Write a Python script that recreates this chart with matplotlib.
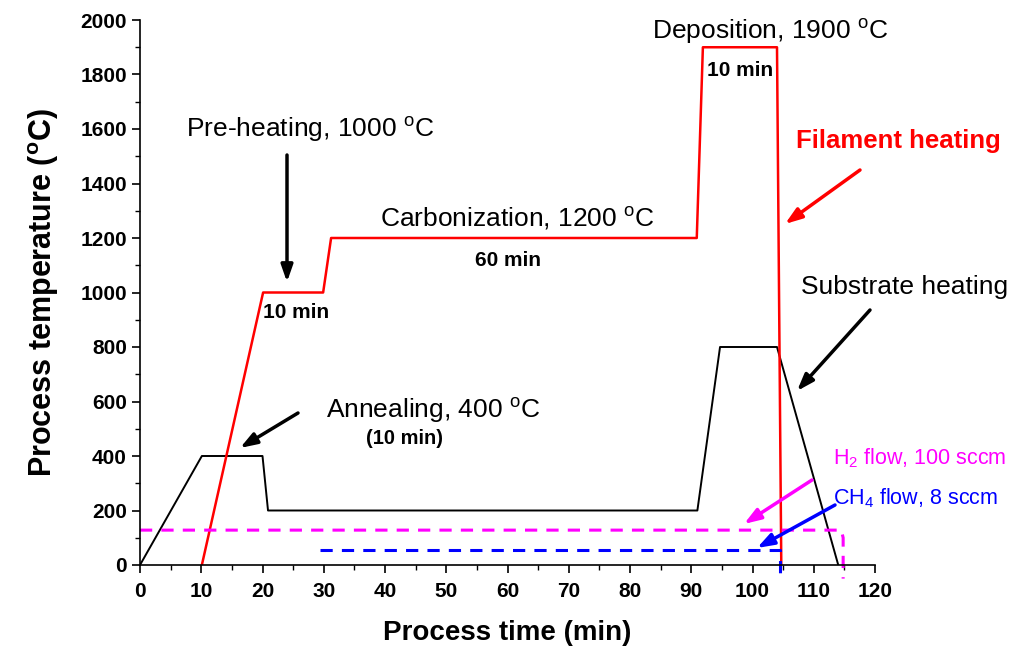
import matplotlib
matplotlib.use("Agg")
import matplotlib.pyplot as plt
from matplotlib.ticker import MultipleLocator

plt.rcParams['font.family'] = ['Liberation Sans', 'DejaVu Sans']
plt.rcParams['mathtext.fontset'] = 'custom'
plt.rcParams['mathtext.rm'] = 'Liberation Sans'
plt.rcParams['mathtext.bf'] = 'Liberation Sans:bold'
plt.rcParams['mathtext.it'] = 'Liberation Sans:italic'

# Filament heating profile (red)
filament_t = [10.1, 20.1, 29.9, 31.2, 90.9, 91.9, 104.0, 104.7]
filament_T = [0, 1000, 1000, 1200, 1200, 1900, 1900, 0]

# Substrate heating profile (black)
substrate_t = [0, 10.1, 20.0, 20.9, 91.0, 94.7, 104.0, 114.0]
substrate_T = [0, 400, 400, 200, 200, 800, 800, 0]

# H2 flow (magenta dashed)
h2_t = [0, 114.5, 114.8, 114.8]
h2_T = [128, 128, 100, -50]

# CH4 flow (blue dashed)
ch4_t = [29.4, 104.5, 104.5]
ch4_T = [55, 55, -50]

xticks = list(range(0, 121, 10))
yticks = list(range(0, 2001, 200))

W, H = 1016, 651
fig = plt.figure(figsize=(W / 100, H / 100), dpi=100)
ax = fig.add_axes([140 / W, 1 - 565 / H, 735 / W, 545 / H])

ax.plot(substrate_t, substrate_T, color='black', lw=1.4)
ax.plot(filament_t, filament_T, color='red', lw=1.8)
ax.plot(h2_t, h2_T, color='#ff00ff', lw=2.2, ls=(0, (4, 3)), clip_on=False)
ax.plot(ch4_t, ch4_T, color='#0000ff', lw=2.2, ls=(0, (4, 3)), clip_on=False)

ax.set_xlim(0, 120)
ax.set_ylim(0, 2000)
ax.set_xticks(xticks)
ax.set_yticks(yticks)
ax.xaxis.set_minor_locator(MultipleLocator(5))
ax.yaxis.set_minor_locator(MultipleLocator(100))
ax.tick_params(which='major', direction='out', length=6, width=1.2, labelsize=15)
ax.tick_params(which='minor', direction='out', length=3.5, width=1.0)
ax.tick_params(axis='x', pad=6)
for lab in ax.get_xticklabels() + ax.get_yticklabels():
    lab.set_fontweight('bold')
for s in ['top', 'right']:
    ax.spines[s].set_visible(False)
for s in ['left', 'bottom']:
    ax.spines[s].set_linewidth(1.2)

ax.set_xlabel('Process time (min)', fontsize=20, fontweight='bold', labelpad=14)
ax.set_ylabel(r'Process temperature ($^{\mathbf{o}}$C)', fontsize=22, fontweight='bold', labelpad=14)

def px(x, y):
    return ((x - 140) / 6.125, (565 - y) / 0.2725)

def txt(xp, yp, s, **kw):
    ax.text(*px(xp, yp), s, ha='center', va='center', clip_on=False, **kw)

def arrow(x0, y0, x1, y1, color):
    ax.annotate('', xy=px(x1, y1), xytext=px(x0, y0), annotation_clip=False,
                arrowprops=dict(arrowstyle='-|>,head_length=1.0,head_width=0.35',
                                color=color, lw=2.5, shrinkA=0, shrinkB=0))

deg = r'$^{\mathrm{o}}$'
txt(310, 130, 'Pre-heating, 1000 ' + deg + 'C', fontsize=19)
arrow(287, 155, 287, 282, 'black')
txt(296, 313, '10 min', fontsize=15, fontweight='bold')

txt(517, 219, 'Carbonization, 1200 ' + deg + 'C', fontsize=19)
txt(508, 261, '60 min', fontsize=15, fontweight='bold')

txt(770, 32, 'Deposition, 1900 ' + deg + 'C', fontsize=19)
txt(740, 71, '10 min', fontsize=15, fontweight='bold')

txt(898, 141, 'Filament heating', fontsize=18.5, fontweight='bold', color='red')
arrow(860, 170, 785, 224, 'red')

txt(905, 287, 'Substrate heating', fontsize=19)
arrow(870, 310, 797, 391, 'black')

txt(433, 410, 'Annealing, 400 ' + deg + 'C', fontsize=19)
txt(404, 438, '(10 min)', fontsize=14.5, fontweight='bold')
arrow(298, 413, 240, 448, 'black')

ax.text(*px(833, 458), r'H$_2$ flow, 100 sccm', ha='left', va='center', fontsize=15.5,
        color='#ff00ff', clip_on=False)
arrow(812, 480, 744, 524, '#ff00ff')
ax.text(*px(833, 498), r'CH$_4$ flow, 8 sccm', ha='left', va='center', fontsize=15.5,
        color='#0000ff', clip_on=False)
arrow(835, 505, 757, 548, '#0000ff')

fig.savefig('out.png', dpi=100)
